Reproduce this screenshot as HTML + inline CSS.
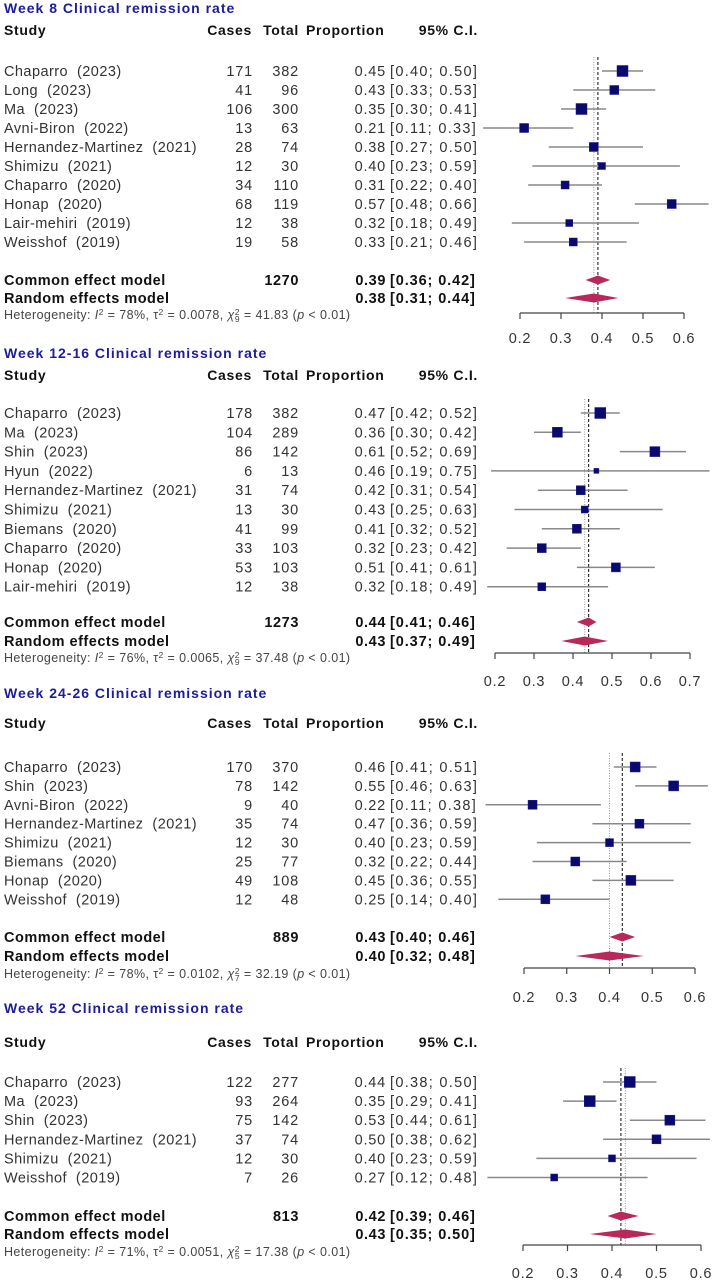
<!DOCTYPE html>
<html><head><meta charset="utf-8">
<style>
html,body{margin:0;padding:0;background:#fff;}
svg{display:block;font-family:"Liberation Sans",Arial,sans-serif;}
svg text{white-space:pre;}
</style></head>
<body>
<svg id="chart" width="713" height="1280" viewBox="0 0 713 1280" xmlns="http://www.w3.org/2000/svg"></svg>
<script>
// ---- Panel 1: Week 8 ----
const p1Studies = ["Chaparro  (2023)","Long  (2023)","Ma  (2023)","Avni-Biron  (2022)","Hernandez-Martinez  (2021)","Shimizu  (2021)","Chaparro  (2020)","Honap  (2020)","Lair-mehiri  (2019)","Weisshof  (2019)"];
const p1Cases = [171,41,106,13,28,12,34,68,12,19];
const p1Totals = [382,96,300,63,74,30,110,119,38,58];
const p1Prop = [0.45,0.43,0.35,0.21,0.38,0.40,0.31,0.57,0.32,0.33];
const p1Lo = [0.40,0.33,0.30,0.11,0.27,0.23,0.22,0.48,0.18,0.21];
const p1Hi = [0.50,0.53,0.41,0.33,0.50,0.59,0.40,0.66,0.49,0.46];
const p1Wt = [11,9,11,9,9,7,8,9,7,8];
const p1Pooled = [[0.39,0.36,0.42],[0.38,0.31,0.44]];
const p1Ticks = [0.2,0.3,0.4,0.5,0.6];
// ---- Panel 2: Week 12-16 ----
const p2Studies = ["Chaparro  (2023)","Ma  (2023)","Shin  (2023)","Hyun  (2022)","Hernandez-Martinez  (2021)","Shimizu  (2021)","Biemans  (2020)","Chaparro  (2020)","Honap  (2020)","Lair-mehiri  (2019)"];
const p2Cases = [178,104,86,6,31,13,41,33,53,12];
const p2Totals = [382,289,142,13,74,30,99,103,103,38];
const p2Prop = [0.47,0.36,0.61,0.46,0.42,0.43,0.41,0.32,0.51,0.32];
const p2Lo = [0.42,0.30,0.52,0.19,0.31,0.25,0.32,0.23,0.41,0.18];
const p2Hi = [0.52,0.42,0.69,0.75,0.54,0.63,0.52,0.42,0.61,0.49];
const p2Wt = [11,10,10,5,9,7,9,9,9,8];
const p2Pooled = [[0.44,0.41,0.46],[0.43,0.37,0.49]];
const p2Ticks = [0.2,0.3,0.4,0.5,0.6,0.7];
// ---- Panel 3: Week 24-26 ----
const p3Studies = ["Chaparro  (2023)","Shin  (2023)","Avni-Biron  (2022)","Hernandez-Martinez  (2021)","Shimizu  (2021)","Biemans  (2020)","Honap  (2020)","Weisshof  (2019)"];
const p3Cases = [170,78,9,35,12,25,49,12];
const p3Totals = [370,142,40,74,30,77,108,48];
const p3Prop = [0.46,0.55,0.22,0.47,0.40,0.32,0.45,0.25];
const p3Lo = [0.41,0.46,0.11,0.36,0.23,0.22,0.36,0.14];
const p3Hi = [0.51,0.63,0.38,0.59,0.59,0.44,0.55,0.40];
const p3Wt = [10,10,9,9,8,9,10,9];
const p3Pooled = [[0.43,0.40,0.46],[0.40,0.32,0.48]];
const p3Ticks = [0.2,0.3,0.4,0.5,0.6];
// ---- Panel 4: Week 52 ----
const p4Studies = ["Chaparro  (2023)","Ma  (2023)","Shin  (2023)","Hernandez-Martinez  (2021)","Shimizu  (2021)","Weisshof  (2019)"];
const p4Cases = [122,93,75,37,12,7];
const p4Totals = [277,264,142,74,30,26];
const p4Prop = [0.44,0.35,0.53,0.50,0.40,0.27];
const p4Lo = [0.38,0.29,0.44,0.38,0.23,0.12];
const p4Hi = [0.50,0.41,0.61,0.62,0.59,0.48];
const p4Wt = [11,11,10,9,7,7];
const p4Pooled = [[0.42,0.39,0.46],[0.43,0.35,0.50]];
const p4Ticks = [0.2,0.3,0.4,0.5,0.6];

const NS = "http://www.w3.org/2000/svg";
const svg = document.getElementById("chart");
function el(tag, attrs, parent, txt){
  const e = document.createElementNS(NS, tag);
  for (const k in attrs) e.setAttribute(k, attrs[k]);
  if (txt !== undefined) e.textContent = txt;
  (parent || svg).appendChild(e);
  return e;
}
function f2(v){ return v.toFixed(2); }
const FS = 14.5;

function drawPanel(cfg, studies, cases, totals, prop, lo, hi, wt, pooled, ticks, totalSum, het){
  const g = el("g", {});
  
  
  const xMin = ticks[0], xMax = ticks[ticks.length-1];
  const sx = v => cfg.px0 + (v - xMin) / (xMax - xMin) * (cfg.px1 - cfg.px0);

  const t = el("text", {x:4, y:cfg.titleY, "font-size":14, "font-weight":"bold", "letter-spacing":1, fill:"#1c1c9c"}, g, cfg.title);
  
  

  const hdr = [["Study",4,"start"],["Cases",252,"end"],["Total",299,"end"],["Proportion",306,"start"],["95% C.I.",478,"end"]];
  hdr.forEach(h => {
    const ht = el("text", {x:h[1], y:cfg.headerY, "font-size":14, "font-weight":"bold", "letter-spacing":0.7, "text-anchor":h[2], fill:"#111"}, g, h[0]);
    
    
  });

  const top = cfg.row0 - 14;
  const lc = el("line", {x1:sx(pooled[0][0]), x2:sx(pooled[0][0]), y1:top, y2:cfg.axisY, stroke:"#333", "stroke-width":1.2, "stroke-dasharray":"3,2"}, g);
  
  
  const lr = el("line", {x1:sx(pooled[1][0]), x2:sx(pooled[1][0]), y1:top, y2:cfg.axisY, stroke:"#999", "stroke-width":1, "stroke-dasharray":"1,1.5"}, g);
  
  

  studies.forEach((s, i) => {
    const y = cfg.row0 + i * cfg.step;
    const by = y + 5;
    const row = el("g", {"font-size":FS, fill:"#333"}, g);
    
    
    el("text", {x:4, y:by, "letter-spacing":0.45}, row, s);
    el("text", {x:253, y:by, "text-anchor":"end", "letter-spacing":0.8}, row, cases[i]);
    el("text", {x:299, y:by, "text-anchor":"end", "letter-spacing":0.8}, row, totals[i]);
    el("text", {x:386, y:by, "text-anchor":"end", "letter-spacing":0.8}, row, f2(prop[i]));
    el("text", {x:390, y:by, "letter-spacing":1.3}, row, "[" + f2(lo[i]) + "; " + f2(hi[i]) + "]");
    const ci = el("line", {x1:sx(lo[i]), x2:sx(hi[i]), y1:y, y2:y, stroke:"#888", "stroke-width":1.5}, row);
    
    
    const w = wt[i];
    const sq = el("rect", {x:sx(prop[i]) - w/2, y:y - w/2, width:w, height:w, fill:"#0a0a6e", stroke:"#1a1a90", "stroke-width":0.5}, row);
    
    
  });

  const labels = ["Common effect model","Random effects model"];
  const ys = [cfg.commonY, cfg.randomY];
  pooled.forEach((p, k) => {
    const y = ys[k], by = y + 5;
    const pg = el("g", {"font-size":14.5, "font-weight":"bold", fill:"#111"}, g);
    
    
    el("text", {x:4, y:by, "letter-spacing":0.5}, pg, labels[k]);
    if (k === 0) el("text", {x:299, y:by, "text-anchor":"end", "letter-spacing":0.6}, pg, totalSum);
    el("text", {x:386, y:by, "text-anchor":"end", "letter-spacing":0.6}, pg, f2(p[0]));
    el("text", {x:390, y:by, "letter-spacing":0.9}, pg, "[" + f2(p[1]) + "; " + f2(p[2]) + "]");
    const d = el("polygon", {points: sx(p[1])+","+y+" "+sx(p[0])+","+(y-4.5)+" "+sx(p[2])+","+y+" "+sx(p[0])+","+(y+4.5), fill:"#b8285a"}, pg);
    
    
  });

  const ht = el("text", {x:4, y:cfg.hetY, "font-size":12.5, "letter-spacing":0.4, fill:"#444"}, g);
  
  
  el("tspan", {}, ht, "Heterogeneity: ");
  el("tspan", {"font-style":"italic"}, ht, "I");
  el("tspan", {dy:-4, "font-size":8.5}, ht, "2");
  el("tspan", {dy:4}, ht, " = " + het[0] + ", τ");
  el("tspan", {dy:-4, "font-size":8.5}, ht, "2");
  el("tspan", {dy:4}, ht, " = " + het[1] + ", ");
  el("tspan", {"font-style":"italic"}, ht, "χ");
  el("tspan", {dy:-4, "font-size":8.5}, ht, "2");
  el("tspan", {dy:7, dx:-5, "font-size":8.5}, ht, het[2]);
  el("tspan", {dy:-3}, ht, " = " + het[3] + " (");
  el("tspan", {"font-style":"italic"}, ht, "p");
  el("tspan", {}, ht, " < 0.01)");

  const ax = el("g", {}, g);
  
  
  el("line", {x1:sx(xMin), x2:sx(xMax), y1:cfg.axisY, y2:cfg.axisY, stroke:"#444", "stroke-width":1.2}, ax);
  ticks.forEach(tv => {
    el("line", {x1:sx(tv), x2:sx(tv), y1:cfg.axisY, y2:cfg.axisY + 6, stroke:"#444", "stroke-width":1.2}, ax);
    const tl = el("text", {x:sx(tv), y:cfg.labelY, "font-size":14.5, "letter-spacing":0.8, "text-anchor":"middle", fill:"#333"}, ax, tv.toFixed(1));
    
    
  });
}

drawPanel({name:"panel-week-8", title:"Week 8 Clinical remission rate", titleY:13, headerY:35, row0:71, step:19, commonY:280, randomY:298, hetY:319, axisY:313, labelY:343, px0:520, px1:684},
  p1Studies,p1Cases,p1Totals,p1Prop,p1Lo,p1Hi,p1Wt,p1Pooled,p1Ticks,1270,["78%","0.0078","9","41.83"]);
drawPanel({name:"panel-week-12-16", title:"Week 12-16 Clinical remission rate", titleY:358, headerY:380, row0:413, step:19.3, commonY:622, randomY:641, hetY:662, axisY:653, labelY:686, px0:495, px1:690},
  p2Studies,p2Cases,p2Totals,p2Prop,p2Lo,p2Hi,p2Wt,p2Pooled,p2Ticks,1273,["76%","0.0065","9","37.48"]);
drawPanel({name:"panel-week-24-26", title:"Week 24-26 Clinical remission rate", titleY:698, headerY:728, row0:767, step:18.9, commonY:937, randomY:956, hetY:978, axisY:968, labelY:1002, px0:524, px1:695},
  p3Studies,p3Cases,p3Totals,p3Prop,p3Lo,p3Hi,p3Wt,p3Pooled,p3Ticks,889,["78%","0.0102","7","32.19"]);
drawPanel({name:"panel-week-52", title:"Week 52 Clinical remission rate", titleY:1013, headerY:1047, row0:1082, step:19.1, commonY:1216, randomY:1234, hetY:1256, axisY:1245, labelY:1278, px0:523, px1:701},
  p4Studies,p4Cases,p4Totals,p4Prop,p4Lo,p4Hi,p4Wt,p4Pooled,p4Ticks,813,["71%","0.0051","5","17.38"]);
</script>
</body></html>
